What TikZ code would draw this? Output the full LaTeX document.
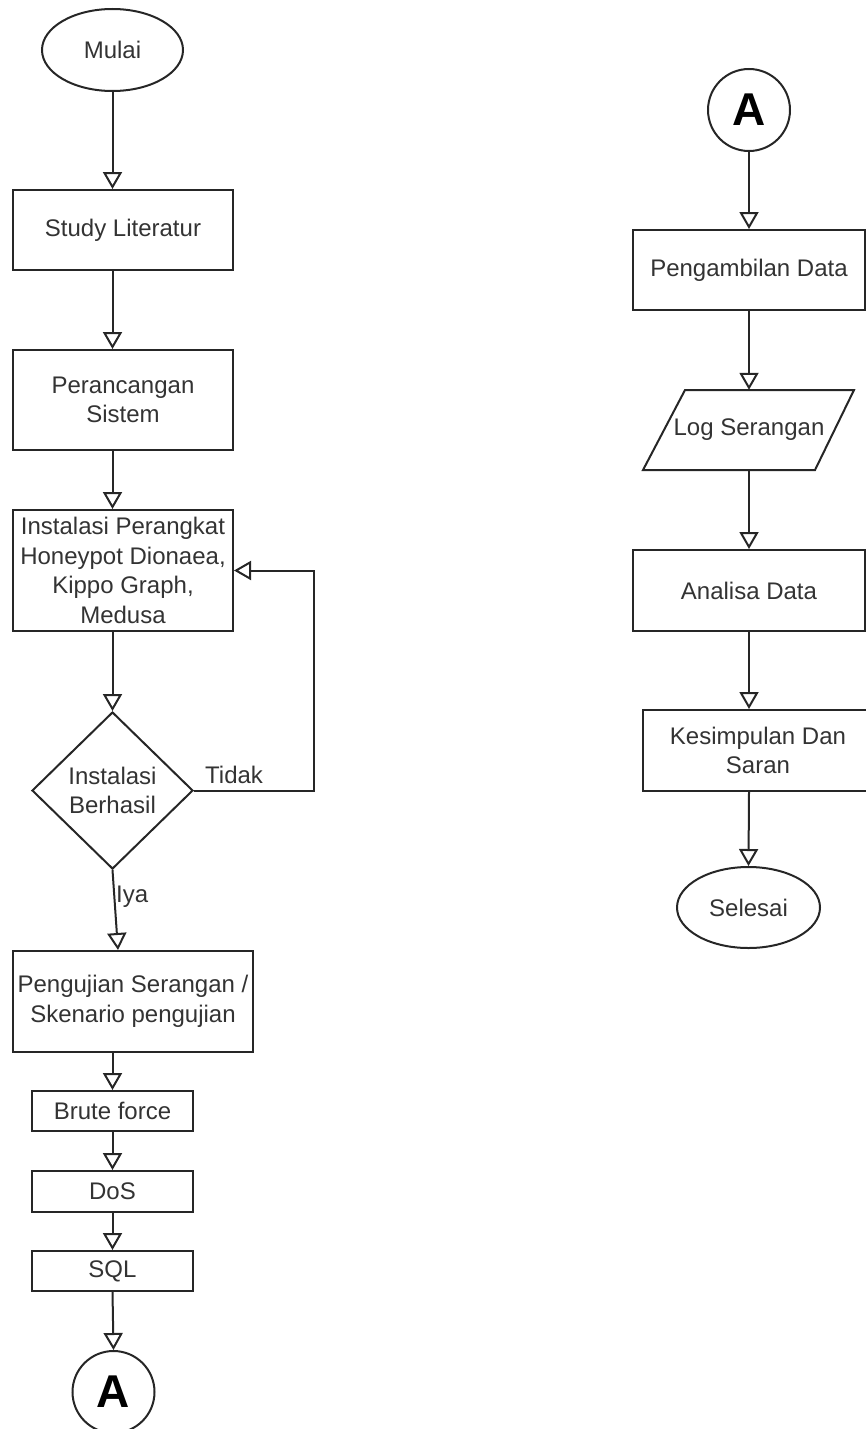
\documentclass[tikz,border=0pt]{standalone}
\usepackage{fontspec}
\setmainfont{Liberation Sans}
\usetikzlibrary{shapes.geometric,arrows.meta,calc}
\begin{document}
\begin{tikzpicture}[x=1pt,y=-1pt,
  every node/.style={text=black!80, font=\fontsize{24}{29.5}\selectfont, inner sep=0pt, align=center},
  box/.style={draw=black!85, line width=2pt, rectangle},
  term/.style={draw=black!85, line width=2pt, ellipse},
  conn/.style={draw=black!85, line width=2pt, circle, minimum size=82pt, font=\fontsize{46}{46}\selectfont\bfseries, text=black},
  arr/.style={draw=black!85, line width=2pt, -{Triangle[open, length=17pt, width=19pt, line width=2pt]}},
  lbl/.style={text=black!80}
]
\useasboundingbox (0,0) rectangle (866,1429);
% left column
\node[term, minimum width=141pt, minimum height=82pt] (mulai) at (112.5,50) {Mulai};
\node[box, minimum width=220pt, minimum height=80pt] (study) at (123,230) {Study Literatur};
\node[box, minimum width=220pt, minimum height=100pt] (peran) at (123,400) {Perancangan\\Sistem};
\node[box, minimum width=220pt, minimum height=121pt] (inst) at (123,570.5) {Instalasi Perangkat\\Honeypot Dionaea,\\Kippo Graph,\\Medusa};
\node[draw=black!85, line width=2pt, shape=diamond, minimum width=161pt, minimum height=157pt, aspect=1] (dia) at (112.5,790.5) {};
\node (diat) at (112.5,790.5) {Instalasi\\Berhasil};
\node[box, minimum width=240pt, minimum height=101pt] (peng) at (133,1001.5) {Pengujian Serangan /\\Skenario pengujian};
\node[box, minimum width=161pt, minimum height=40pt] (brute) at (112.5,1111) {Brute force};
\node[box, minimum width=161pt, minimum height=41pt] (dos) at (112.5,1191.5) {DoS};
\node[box, minimum width=161pt, minimum height=40pt] (sql) at (112.5,1271) {SQL};
\node[conn] (a1) at (113.5,1392) {A};
% right column
\node[conn] (a2) at (749,110) {A};
\node[box, minimum width=232pt, minimum height=80pt] (pengam) at (749,270) {Pengambilan Data};
\node[minimum width=169pt, minimum height=80pt] (log) at (749,430) {Log Serangan};
\draw[draw=black!85, line width=2pt] (685,390) -- (854,390) -- (815,470) -- (643,470) -- cycle;
\node[box, minimum width=232pt, minimum height=81pt] (analisa) at (749,590.5) {Analisa Data};
\node[box, minimum width=230pt, minimum height=81pt] (kesim) at (758,750.5) {Kesimpulan Dan\\Saran};
\node[term, minimum width=143pt, minimum height=81pt] (selesai) at (748.5,907.5) {Selesai};
% connectors left
\draw[arr] (mulai.south) -- (mulai.south |- study.north);
\draw[arr] (mulai.south |- study.south) -- (mulai.south |- peran.north);
\draw[arr] (mulai.south |- peran.south) -- (mulai.south |- inst.north);
\draw[arr] (mulai.south |- inst.south) -- (dia.north);
\draw[arr] (dia.east) -- ++(120,0) coordinate (loopc) |- (inst.east);
\node[lbl, anchor=west] (tidak) at (205,775) {Tidak};
\draw[arr] (dia.south) -- ([xshift=-15pt]peng.north);
\node[lbl, anchor=west] (iya) at (116,897) {Iya};
\draw[arr] (mulai.south |- peng.south) -- (mulai.south |- brute.north);
\draw[arr] (brute.south) -- (dos.north);
\draw[arr] (dos.south) -- (sql.north);
\draw[arr] (sql.south) -- (a1.north);
% connectors right
\draw[arr] (a2.south) -- (pengam.north);
\draw[arr] (pengam.south) -- (log.north);
\draw[arr] (log.south) -- (analisa.north);
\draw[arr] (analisa.south) -- (analisa.south |- kesim.north);
\draw[arr] (analisa.south |- kesim.south) -- (selesai.north);
\end{tikzpicture}
\end{document}
